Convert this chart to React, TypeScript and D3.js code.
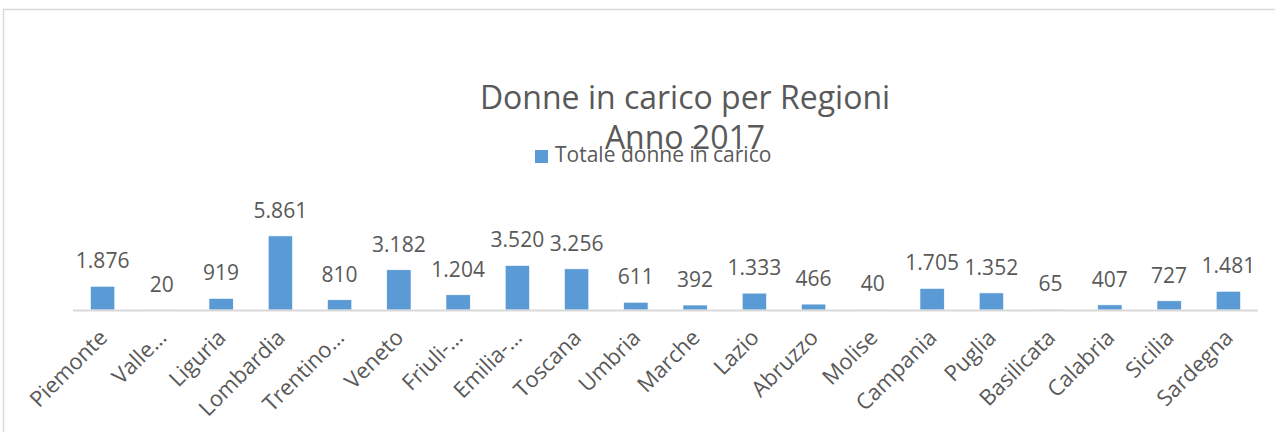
import React from "react";
import * as d3 from "d3";

const categories = [
  "Piemonte", "Valle…", "Liguria", "Lombardia", "Trentino…", "Veneto", "Friuli-…",
  "Emilia-…", "Toscana", "Umbria", "Marche", "Lazio", "Abruzzo", "Molise",
  "Campania", "Puglia", "Basilicata", "Calabria", "Sicilia", "Sardegna",
];
const values = [
  1876, 20, 919, 5861, 810, 3182, 1204, 3520, 3256, 611, 392, 1333, 466, 40,
  1705, 1352, 65, 407, 727, 1481,
];
const valueLabels = values.map((v) => d3.format(",")(v).replace(/,/g, "."));
const titleLines = ["Donne in carico per Regioni", "Anno 2017"];
const seriesName = "Totale donne in carico";

const W = 1275;
const H = 432;
const FONT = "'Open Sans', sans-serif";
const TEXT = "#595959";
const BAR = "#5B9BD5";

export default function App() {
  const x = d3.scaleBand<string>().domain(categories).range([73, 1258]).paddingInner(0.59).paddingOuter(0.295);
  const y = d3.scaleLinear().domain([0, 7000]).range([310, 310 - 88.5]);
  return (
    <svg width={W} height={H} style={{ position: "absolute", left: 0, top: 0, background: "#fff" }}>
      <rect x={3.5} y={9.5} width={W + 20} height={H + 20} fill="#fff" stroke="#D9D9D9" strokeWidth={1.5} />
      <g fontFamily={FONT} fill={TEXT}>
        {titleLines.map((t, i) => (
          <text key={t} x={685} y={109 + i * 40} textAnchor="middle" fontSize={32}>{t}</text>
        ))}
        <rect x={535} y={150} width={13} height={13} fill={BAR} />
        <text x={555} y={162} fontSize={21}>{seriesName}</text>
      </g>
      <g>
        {categories.map((c, i) => (
          <rect key={c} x={x(c)!} y={y(values[i])} width={x.bandwidth()} height={y(0) - y(values[i])} fill={BAR} stroke="#fff" strokeWidth={0.6} />
        ))}
      </g>
      <line x1={73} x2={1258} y1={310.5} y2={310.5} stroke="#D9D9D9" strokeWidth={2} />
      <g fontFamily={FONT} fill={TEXT}>
        {categories.map((c, i) => (
          <text key={c} x={x(c)! + x.bandwidth() / 2} y={y(values[i]) - 18} textAnchor="middle" fontSize={21}>{valueLabels[i]}</text>
        ))}
        {categories.map((c) => {
          const cx = (x(c) ?? 0) + x.bandwidth() / 2 + 6;
          return (
            <text key={c} transform={`translate(${cx},${339}) rotate(-45)`} textAnchor="end" fontSize={22}>{c}</text>
          );
        })}
      </g>
    </svg>
  );
}
